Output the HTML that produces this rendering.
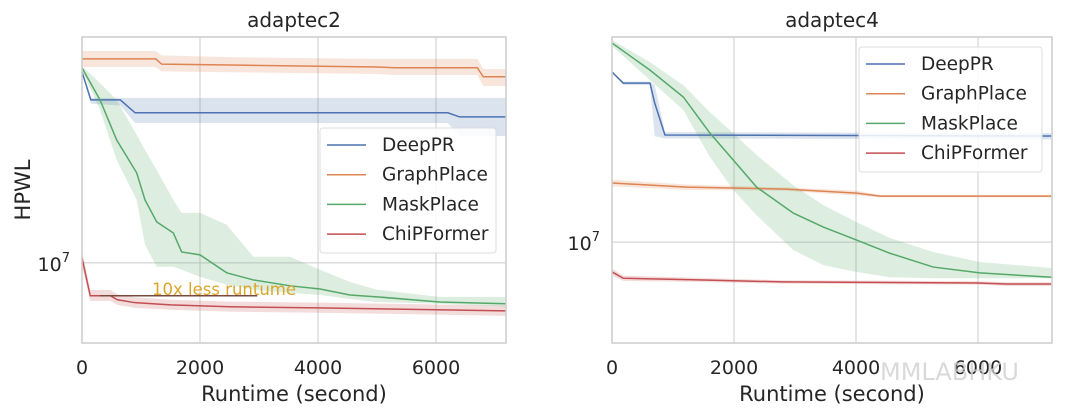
<!DOCTYPE html>
<html><head><meta charset="utf-8"><style>
html,body{margin:0;padding:0;background:#fff;}
svg{display:block;font-family:"DejaVu Sans","Liberation Sans",sans-serif;}
</style></head><body>
<svg id="chart" width="1080" height="417" viewBox="0 0 1080 417" xmlns="http://www.w3.org/2000/svg"></svg>
<script>
// ---- data (HPWL in units of 1e7) ----
const xTicks = [0, 2000, 4000, 6000];
const seriesNames = ["DeepPR", "GraphPlace", "MaskPlace", "ChiPFormer"];
const colors = ["#4c72b0", "#dd8452", "#55a868", "#c44e52"];

// adaptec2
const a2DeepX = [0, 150, 650, 900, 6200, 6400, 7200];
const a2DeepY = [1.797, 1.649, 1.649, 1.585, 1.585, 1.565, 1.565];
const a2DeepHi = [1.80, 1.659, 1.659, 1.659, 1.659, 1.659, 1.659];
const a2DeepLo = [1.79, 1.63, 1.62, 1.536, 1.536, 1.476, 1.476];
const a2GraphX = [0, 1250, 1350, 2500, 5000, 5300, 6700, 6800, 7200];
const a2GraphY = [1.87, 1.87, 1.84, 1.835, 1.824, 1.82, 1.82, 1.77, 1.77];
const a2GraphHi = [1.916, 1.916, 1.89, 1.88, 1.87, 1.87, 1.87, 1.813, 1.813];
const a2GraphLo = [1.824, 1.824, 1.80, 1.795, 1.785, 1.78, 1.78, 1.721, 1.721];
const a2MaskX = [0, 305, 588, 927, 1068, 1266, 1548, 1689, 2000, 2452, 2904, 3526, 4035, 4543, 4995, 6062, 7187];
const a2MaskY = [1.819, 1.649, 1.458, 1.318, 1.213, 1.134, 1.096, 1.034, 1.025, 0.970, 0.949, 0.932, 0.923, 0.906, 0.901, 0.887, 0.882];
const a2MaskHi = [1.830, 1.737, 1.649, 1.481, 1.414, 1.330, 1.213, 1.166, 1.166, 1.124, 1.019, 1.019, 0.979, 0.943, 0.921, 0.901, 0.901];
const a2MaskLo = [1.807, 1.599, 1.371, 1.213, 1.057, 0.988, 0.988, 0.979, 0.958, 0.935, 0.921, 0.912, 0.906, 0.895, 0.887, 0.882, 0.874];
const a2ChipX = [0, 140, 480, 600, 900, 1500, 2500, 4000, 6000, 7200];
const a2ChipY = [1.015, 0.904, 0.904, 0.893, 0.885, 0.879, 0.874, 0.871, 0.866, 0.863];
const a2ChipHi = [1.04, 0.92, 0.92, 0.908, 0.90, 0.893, 0.888, 0.885, 0.880, 0.877];
const a2ChipLo = [0.99, 0.89, 0.89, 0.879, 0.871, 0.866, 0.861, 0.858, 0.853, 0.850];

// adaptec4
const a4DeepX = [0, 186, 623, 700, 868, 7200];
const a4DeepY = [1.777, 1.711, 1.711, 1.60, 1.436, 1.431];
const a4DeepHi = [1.78, 1.72, 1.72, 1.70, 1.45, 1.445];
const a4DeepLo = [1.77, 1.70, 1.70, 1.43, 1.42, 1.415];
const a4GraphX = [0, 1224, 2852, 4010, 4392, 7200];
const a4GraphY = [1.221, 1.204, 1.196, 1.180, 1.168, 1.168];
const a4GraphHi = [1.235, 1.215, 1.203, 1.19, 1.173, 1.173];
const a4GraphLo = [1.207, 1.193, 1.189, 1.17, 1.163, 1.163];
const a4MaskX = [0, 623, 1169, 1606, 1989, 2371, 2972, 3464, 4010, 4556, 5266, 6031, 7216];
const a4MaskY = [1.960, 1.788, 1.633, 1.445, 1.319, 1.204, 1.103, 1.052, 1.007, 0.963, 0.919, 0.901, 0.888];
const a4MaskHi = [1.979, 1.837, 1.700, 1.551, 1.445, 1.342, 1.212, 1.133, 1.070, 1.014, 0.967, 0.935, 0.916];
const a4MaskLo = [1.940, 1.729, 1.562, 1.333, 1.192, 1.095, 0.973, 0.925, 0.904, 0.888, 0.885, 0.885, 0.885];
const a4ChipX = [0, 186, 1420, 2800, 6000, 6468, 7200];
const a4ChipY = [0.904, 0.885, 0.880, 0.874, 0.871, 0.868, 0.868];
const a4ChipHi = [0.915, 0.893, 0.886, 0.879, 0.876, 0.873, 0.873];
const a4ChipLo = [0.893, 0.877, 0.874, 0.869, 0.866, 0.862, 0.862];

const svg = document.getElementById('chart');
const NS = "http://www.w3.org/2000/svg";
function mk(tag, attrs, parent) {
  const e = document.createElementNS(NS, tag);
  for (const k in attrs) e.setAttribute(k, attrs[k]);
  (parent || svg).appendChild(e);
  return e;
}

function panel(cfg) {
  const g = mk('g', {});
  
  
  const {x0, x1, y0, y1, xMax, yMin, yMax} = cfg;
  const sx = v => x0 + (v / xMax) * (x1 - x0);
  const ly0 = Math.log10(yMin), ly1 = Math.log10(yMax);
  const sy = v => y1 - (Math.log10(v) - ly0) / (ly1 - ly0) * (y1 - y0);
  mk('rect', {x: x0, y: y0, width: x1 - x0, height: y1 - y0, fill: '#fff'}, g);
  xTicks.forEach(t => {
    const gl = mk('line', {x1: sx(t), x2: sx(t), y1: y0, y2: y1, stroke: '#cccccc', 'stroke-width': 1}, g);
    
    
    const tl = mk('text', {x: sx(t), y: y1 + 31, 'text-anchor': 'middle', 'font-size': 19, fill: '#262626'}, g);
    tl.textContent = t;
    
    
  });
  const gy = sy(1);
  const hg = mk('line', {x1: x0, x2: x1, y1: gy, y2: gy, stroke: '#cccccc', 'stroke-width': 1}, g);
  
  
  const yt = mk('text', {x: x0 - 12, y: gy + 8, 'text-anchor': 'end', 'font-size': 19, fill: '#262626'}, g);
  yt.innerHTML = '10<tspan dy="-9" font-size="13">7</tspan>';
  
  
  cfg.series.forEach((s, i) => {
    let d = '';
    s.x.forEach((v, j) => { d += (j ? 'L' : 'M') + sx(Math.min(v, xMax)) + ',' + sy(s.hi[j]); });
    for (let j = s.x.length - 1; j >= 0; j--) d += 'L' + sx(Math.min(s.x[j], xMax)) + ',' + sy(s.lo[j]);
    const band = mk('path', {d: d + 'Z', fill: colors[i], 'fill-opacity': 0.2, stroke: 'none'}, g);
    
    
  });
  cfg.series.forEach((s, i) => {
    const pts = s.x.map((v, j) => sx(Math.min(v, xMax)) + ',' + sy(s.y[j])).join(' ');
    const ln = mk('polyline', {points: pts, fill: 'none', stroke: colors[i], 'stroke-width': 1.5}, g);
    
    
  });
  if (cfg.annot) cfg.annot(g, sx, sy);
  const fr = mk('rect', {x: x0, y: y0, width: x1 - x0, height: y1 - y0, fill: 'none', stroke: '#cccccc', 'stroke-width': 1.5}, g);
  
  
  const ti = mk('text', {x: (x0 + x1) / 2, y: 27, 'text-anchor': 'middle', 'font-size': 20, fill: '#262626'}, g);
  ti.textContent = cfg.title;
  
  
  const xl = mk('text', {x: (x0 + x1) / 2, y: 401, 'text-anchor': 'middle', 'font-size': 21, fill: '#262626'}, g);
  xl.textContent = 'Runtime (second)';
  
  
  const L = cfg.legend;
  const lg = mk('g', {}, g);
  
  
  mk('rect', {x: L.x, y: L.y, width: L.w, height: L.h, rx: 3, fill: '#fff', 'fill-opacity': 0.85, stroke: '#dddddd'}, lg);
  seriesNames.forEach((n, i) => {
    const ey = L.y + 17 + i * 29.7;
    const e = mk('g', {}, lg);
    
    
    mk('line', {x1: L.x + 7, x2: L.x + 46, y1: ey, y2: ey, stroke: colors[i], 'stroke-width': 1.5}, e);
    const t = mk('text', {x: L.x + 62, y: ey + 6, 'font-size': 18.5, fill: '#262626'}, e);
    t.textContent = n;
  });
}

panel({name: 'panel-adaptec2', title: 'adaptec2', x0: 82, x1: 506, y0: 37, y1: 343, xMax: 7186, yMin: 0.782, yMax: 2.0,
  legend: {x: 320, y: 128, w: 176, h: 125},
  series: [
    {x: a2DeepX, y: a2DeepY, hi: a2DeepHi, lo: a2DeepLo},
    {x: a2GraphX, y: a2GraphY, hi: a2GraphHi, lo: a2GraphLo},
    {x: a2MaskX, y: a2MaskY, hi: a2MaskHi, lo: a2MaskLo},
    {x: a2ChipX, y: a2ChipY, hi: a2ChipHi, lo: a2ChipLo}],
  annot: (g, sx, sy) => {
    const al = mk('line', {x1: sx(305), x2: sx(2970), y1: sy(0.904), y2: sy(0.904), stroke: '#7a4a40', 'stroke-width': 1.5}, g);
    
    
    const at = mk('text', {x: 152, y: 295, 'font-size': 16.5, fill: '#dba52a'}, g);
    at.textContent = '10x less runtume';
    
    
  }
});
panel({name: 'panel-adaptec4', title: 'adaptec4', x0: 612, x1: 1052, y0: 37, y1: 343, xMax: 7213, yMin: 0.711, yMax: 2.0,
  legend: {x: 859, y: 47, w: 183, h: 125},
  series: [
    {x: a4DeepX, y: a4DeepY, hi: a4DeepHi, lo: a4DeepLo},
    {x: a4GraphX, y: a4GraphY, hi: a4GraphHi, lo: a4GraphLo},
    {x: a4MaskX, y: a4MaskY, hi: a4MaskHi, lo: a4MaskLo},
    {x: a4ChipX, y: a4ChipY, hi: a4ChipHi, lo: a4ChipLo}]
});
const yl = mk('text', {x: 30, y: 190, 'text-anchor': 'middle', 'font-size': 21, fill: '#262626', transform: 'rotate(-90 30 190)'});
yl.textContent = 'HPWL';


const wm = mk('text', {x: 880, y: 380, 'font-size': 24, fill: '#d0d0d0', 'fill-opacity': 0.8});
wm.textContent = 'MMLABHKU';


</script>
</body></html>
